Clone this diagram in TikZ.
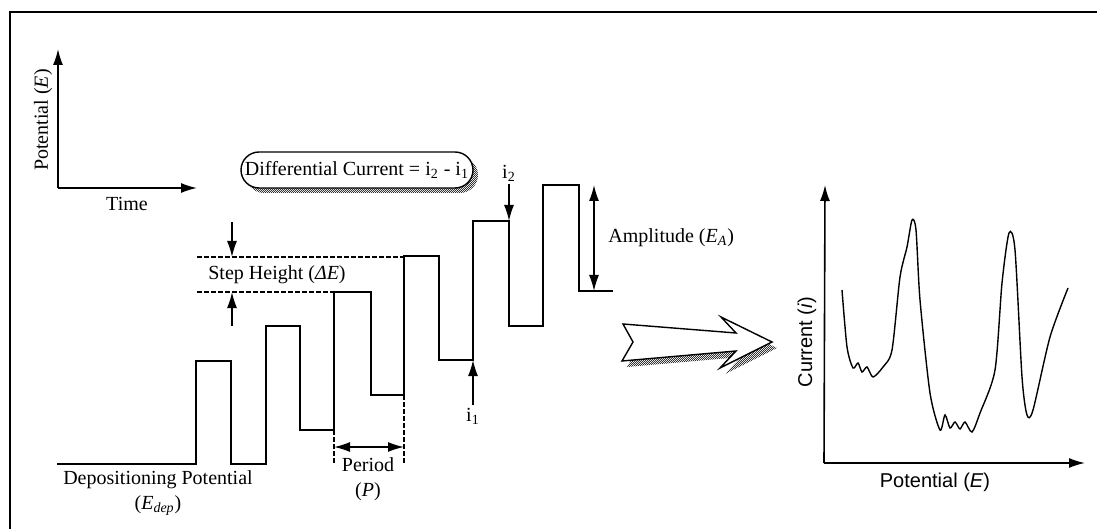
\documentclass[tikz,border=0pt]{standalone}
\usepackage{fontspec}
\setmainfont{Liberation Serif}
\setsansfont{Liberation Sans}
\usetikzlibrary{arrows.meta,patterns,shadows}
\pgfdeclarepatternformonly{finechecker}{\pgfpointorigin}{\pgfqpoint{1.2pt}{1.2pt}}{\pgfqpoint{1.2pt}{1.2pt}}{%
  \pgfpathrectangle{\pgfpointorigin}{\pgfqpoint{0.6pt}{0.6pt}}%
  \pgfpathrectangle{\pgfqpoint{0.6pt}{0.6pt}}{\pgfqpoint{0.6pt}{0.6pt}}%
  \pgfusepath{fill}}
\tikzset{
  wave/.style={line width=0.7pt},
  guide/.style={line width=0.6pt, dash pattern=on 2.5pt off 1pt},
  dimline/.style={line width=0.7pt},
  axisline/.style={line width=0.8pt},
  stipple/.style={pattern=finechecker, pattern color=black!80},
}
\begin{document}
\begin{tikzpicture}[x=0.5pt, y=-0.5pt, >={Latex[length=8pt,width=5pt]}, every node/.style={font=\fontsize{10}{12.5}\selectfont, inner sep=1pt}]
\useasboundingbox (0,0) rectangle (1097,529);
% frame
\draw[line width=0.8pt] (10,529) -- (10,12) -- (1097,12);

% small axes, top left
\coordinate (origA) at (58,188);
\coordinate (topA) at (58,49);
\coordinate (rightA) at (197,188);
\draw[axisline,->] (origA) -- (topA);
\draw[axisline,->] (origA) -- (rightA);
\node[rotate=90] (potA) at (43,120) {Potential (\textit{E})};
\node (time) at (127,204) {Time};

% staircase waveform
\draw[wave] (57,464) -| (196,361) -| (231,464) -| (266,326) -| (300,430) -| (334,292)
  -| (371,395) -| (404,256) -| (439,360) -| (473,221) -| (509,326) -| (543,185)
  -| (579,291) -- (613,291);

% step height
\coordinate (shA) at (232,222);
\coordinate (shB) at (232,257);
\coordinate (shC) at (232,326);
\coordinate (shD) at (232,292);
\draw[guide] (197,257) -- (404,257);
\draw[guide] (197,292) -- (334,292);
\draw[dimline,->] (shA) -- (shB);
\draw[dimline,->] (shC) -- (shD);
\node (step) at (277,275) {Step Height (\textit{ΔE})};

% period
\coordinate (perL) at (334,447);
\coordinate (perR) at (404,447);
\draw[guide] (334,430) -- (334,463);
\draw[guide] (404,395) -- (404,463);
\draw[dimline,<->] (perL) -- (perR);
\node[align=center] (period) at (368,479) {Period\\(\textit{P})};

\node[align=center] (dep) at (158,493) {Depositioning Potential\\(\textit{E}\textsubscript{\textit{dep}})};

% amplitude
\coordinate (ampT) at (594,185);
\coordinate (ampB) at (594,291);
\draw[dimline,<->] (ampT) -- (ampB);
\node[anchor=west] (amp) at (606,238) {Amplitude (\textit{E}\textsubscript{\textit{A}})};

% sampled currents
\coordinate (ptwo) at (509,221);
\coordinate (pone) at (473,360);
\node (itwo) at (509,173) {i\textsubscript{2}};
\node (ione) at (473,416) {i\textsubscript{1}};
\draw[dimline,->] (itwo) -- (ptwo);
\draw[dimline,->] (ione) -- (pone);

\node[draw, line width=0.7pt, fill=white, rounded corners=9pt, minimum width=116pt, minimum height=18pt,
  drop shadow={shadow xshift=2.5pt, shadow yshift=-2.5pt, opacity=1, stipple}] (diff) at (357,170)
  {Differential Current = i\textsubscript{2} - i\textsubscript{1}};

% big arrow
\def\bigarrow{(623,324) -- (736,333) -- (721,317) -- (772,342) -- (720,368) -- (736,351) -- (622,361) -- (633,342) -- cycle}
\begin{scope}[shift={(5,6)}]
\fill[stipple] \bigarrow;
\end{scope}
\filldraw[fill=white, line width=0.7pt] \bigarrow;

% voltammogram
\coordinate (origB) at (824,463);
\coordinate (topB) at (825,185);
\coordinate (rightB) at (1085,463);
\draw[axisline,->] (origB) -- (topB);
\draw[axisline,->] (origB) -- (rightB);
\node[font=\sffamily\fontsize{10}{12}\selectfont] (potB) at (935,482) {Potential (\textit{E})};
\node[font=\sffamily\fontsize{10}{12}\selectfont, rotate=90] (curB) at (807,342) {Current (\textit{i})};
\draw[wave] plot[smooth, tension=0.45] coordinates {
  (842,290) (847,347) (853,368) (858,363) (862,372) (867,367) (873,377) (883,367)
  (892,350) (900,277) (907,247) (912,220) (916,230) (920,300) (930,393) (940,430)
  (945,415) (950,428) (955,422) (960,429) (965,422) (972,432) (980,413) (995,370)
  (1002,283) (1009,233) (1015,250) (1022,377) (1027,415) (1033,410) (1050,337) (1068,288)};
\end{tikzpicture}
\end{document}
